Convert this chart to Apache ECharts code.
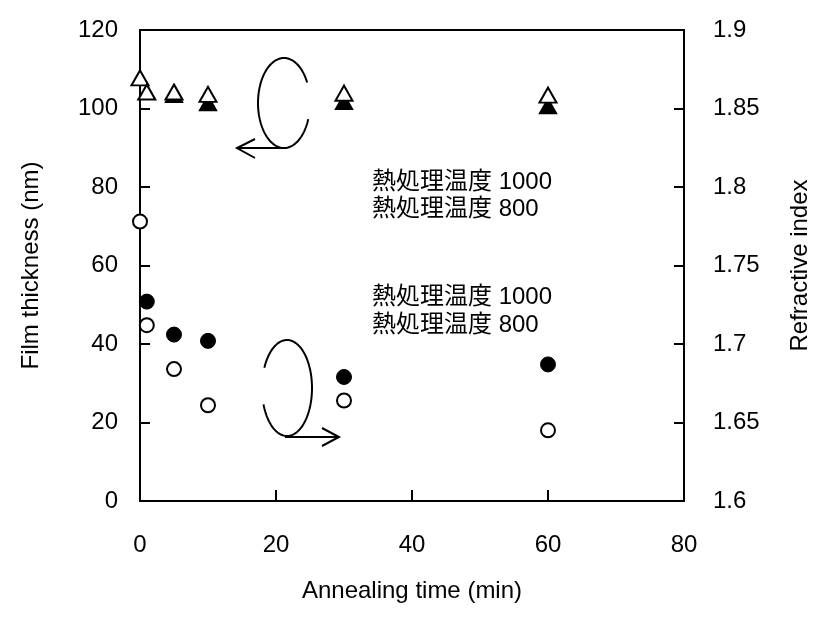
<!DOCTYPE html>
<html>
<head>
<meta charset="utf-8">
<script src="https://cdn.jsdelivr.net/npm/echarts@6/dist/echarts.min.js"></script>
<style>
  html, body { margin: 0; padding: 0; background: #fff; }
  #main { width: 819px; height: 617px; }
</style>
</head>
<body>
<div id="main"></div>
<script>
// annealing time (min)
var thickOpenX = [0, 1, 5, 10, 30, 60];
var thickOpen = [107.8, 104.2, 104.2, 103.6, 103.9, 103.4];   // 800
var thickFillX = [5, 10, 30, 60];
var thickFill = [103.5, 101.4, 101.7, 100.6];                  // 1000
var nOpenX = [0, 1, 5, 10, 30, 60];
var nOpen = [1.778, 1.712, 1.684, 1.661, 1.664, 1.645];        // 800
var nFillX = [1, 5, 10, 30, 60];
var nFill = [1.727, 1.706, 1.702, 1.679, 1.687];               // 1000
var noteLines = ['熱処理温度 1000', '熱処理温度 800'];

function pairs(xs, ys) {
	var out = [];
	for (var i = 0; i < xs.length; i++) out.push([xs[i], ys[i]]);
	return out;
}

// open ellipse drawn as polyline (decoration)
function ellipsePts(cx, cy, rx, ry, a0, a1) {
	var pts = [];
	for (var a = a0; a <= a1; a += 3) {
		var t = a * Math.PI / 180;
		pts.push([cx + rx * Math.cos(t), cy + ry * Math.sin(t)]);
	}
	return pts;
}

var black = '#000';
var font = 'Liberation Sans, Arial, sans-serif';
var noteFont = '24px "Liberation Sans", "Noto Sans CJK JP", sans-serif';

var echar = echarts.init(document.getElementById('main'));
var option = {
	animation: false,
	backgroundColor: '#fff',
	grid: { left: 140, top: 30, right: 135, bottom: 116, show: true, borderColor: black, borderWidth: 2,
		outerBoundsMode: 'none' },
	xAxis: {
		type: 'value', min: 0, max: 80, interval: 20,
		name: 'Annealing time (min)', nameLocation: 'middle', nameGap: 78,
		nameTextStyle: { fontSize: 24, color: black, fontFamily: font },
		axisLine: { lineStyle: { color: black, width: 2 } },
		axisTick: { inside: true, length: 11, lineStyle: { color: black, width: 2 } },
		axisLabel: { fontSize: 24, color: black, fontFamily: font, margin: 32 },
		splitLine: { show: false }
	},
	yAxis: [{
		type: 'value', min: 0, max: 120, interval: 20,
		name: 'Film thickness (nm)', nameLocation: 'middle', nameGap: 97,
		nameTextStyle: { fontSize: 24, color: black, fontFamily: font },
		axisLine: { lineStyle: { color: black, width: 2 } },
		axisTick: { inside: true, length: 10, lineStyle: { color: black, width: 2 } },
		axisLabel: { fontSize: 24, color: black, fontFamily: font, margin: 22 },
		splitLine: { show: false }
	}, {
		type: 'value', min: 1.6, max: 1.9, interval: 0.05,
		name: 'Refractive index', nameLocation: 'middle', nameGap: 104, nameRotate: 90,
		nameTextStyle: { fontSize: 24, color: black, fontFamily: font },
		axisLine: { lineStyle: { color: black, width: 2 } },
		axisTick: { inside: true, length: 10, lineStyle: { color: black, width: 2 } },
		axisLabel: { fontSize: 24, color: black, fontFamily: font, margin: 29,
			formatter: function (v) { return String(Math.round(v * 100) / 100); } },
		splitLine: { show: false }
	}],
	series: [
		{ name: 'thick1000', type: 'scatter', yAxisIndex: 0, data: pairs(thickFillX, thickFill),
		  symbol: 'triangle', symbolSize: [17, 15],
		  itemStyle: { color: black, borderColor: black, borderWidth: 1.5, opacity: 1 } },
		{ name: 'thick800', type: 'scatter', yAxisIndex: 0, data: pairs(thickOpenX, thickOpen),
		  symbol: 'triangle', symbolSize: [17, 15],
		  itemStyle: { color: '#fff', borderColor: black, borderWidth: 2, opacity: 1 } },
		{ name: 'n1000', type: 'scatter', yAxisIndex: 1, data: pairs(nFillX, nFill),
		  symbol: 'circle', symbolSize: 15,
		  itemStyle: { color: black, borderColor: black, borderWidth: 1, opacity: 1 } },
		{ name: 'n800', type: 'scatter', yAxisIndex: 1, data: pairs(nOpenX, nOpen),
		  symbol: 'circle', symbolSize: 14,
		  itemStyle: { color: '#fff', borderColor: black, borderWidth: 2, opacity: 1 } }
	],
	graphic: [
		{ type: 'text', left: 372, top: 169, style: { text: noteLines.join('\n'), font: noteFont, fill: black, lineHeight: 27 } },
		{ type: 'text', left: 372, top: 283, style: { text: noteLines.join('\n'), font: noteFont, fill: black, lineHeight: 28 } },
		// upper ellipse + arrow to left axis
		{ type: 'polyline', shape: { points: ellipsePts(284, 103, 26, 45, 21, 335) }, style: { stroke: black, lineWidth: 2, fill: null } },
		{ type: 'polyline', shape: { points: [[287, 148], [237, 148]] }, style: { stroke: black, lineWidth: 2 } },
		{ type: 'polyline', shape: { points: [[255, 139], [237, 148], [255, 158]] }, style: { stroke: black, lineWidth: 2, fill: null } },
		// lower ellipse + arrow to right axis
		{ type: 'polyline', shape: { points: ellipsePts(287, 388, 25, 48, -155, 160) }, style: { stroke: black, lineWidth: 2, fill: null } },
		{ type: 'polyline', shape: { points: [[285, 437], [339, 437]] }, style: { stroke: black, lineWidth: 2 } },
		{ type: 'polyline', shape: { points: [[322, 428], [339, 437], [322, 446]] }, style: { stroke: black, lineWidth: 2, fill: null } }
	]
};
echar.setOption(option);
</script>
</body>
</html>
